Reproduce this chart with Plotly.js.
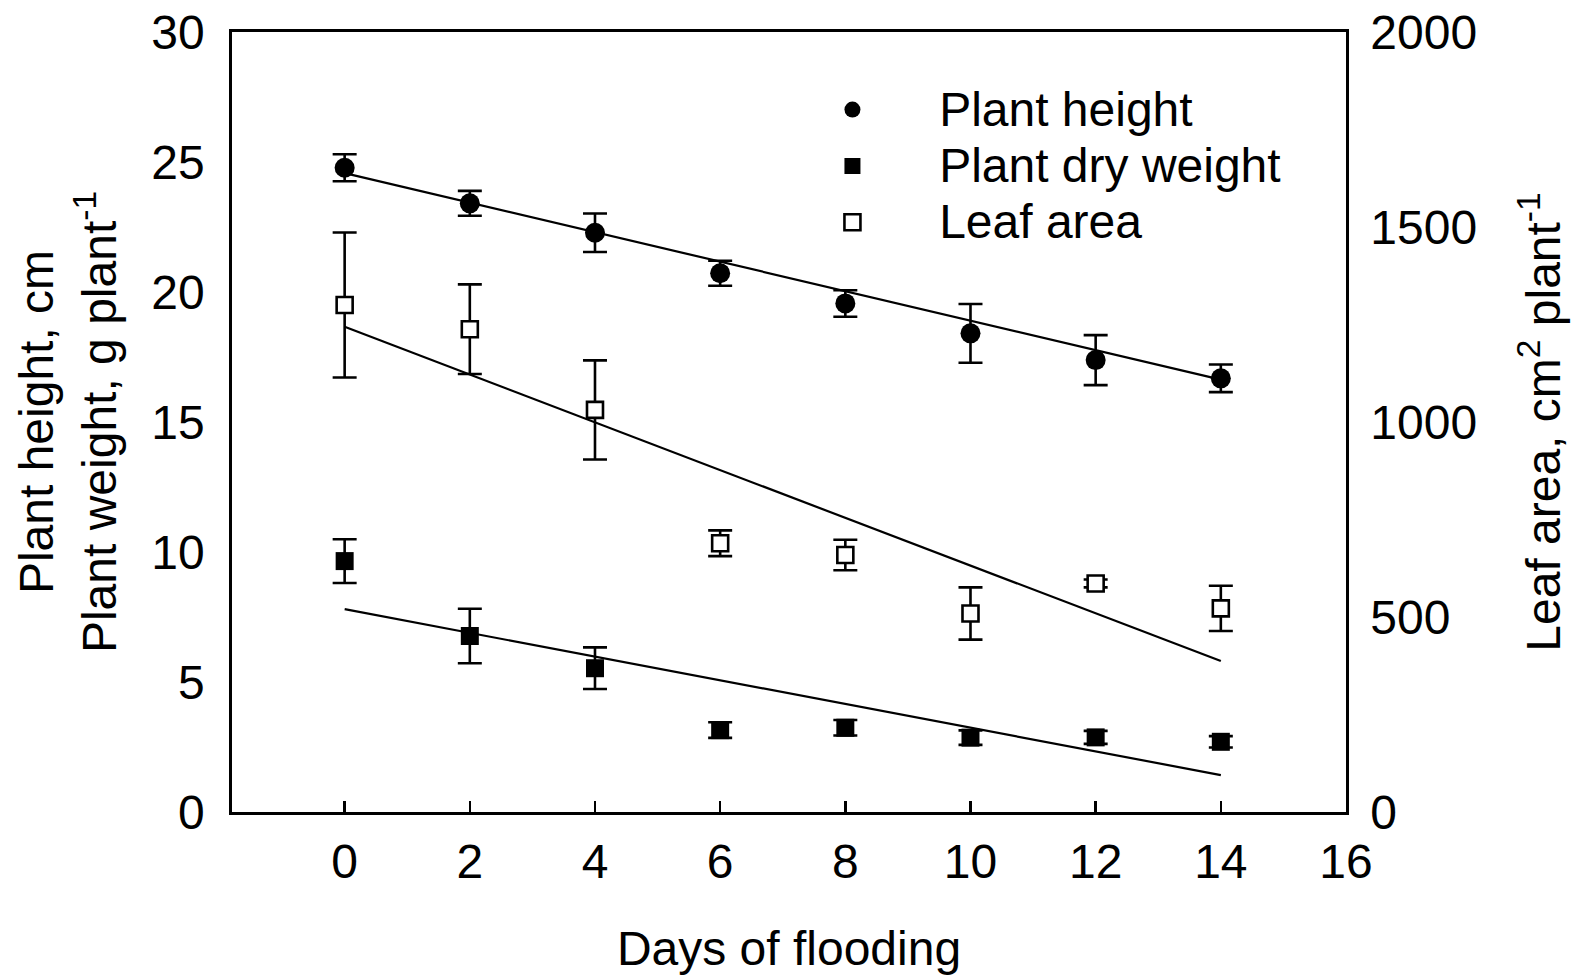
<!DOCTYPE html>
<html>
<head>
<meta charset="utf-8">
<script src="https://cdn.plot.ly/plotly-3.0.1.min.js"></script>
<style>html,body{margin:0;padding:0;background:#fff;}#chart{width:1579px;height:975px;}</style>
</head>
<body>
<div id="chart"></div>
<script>
// Days of flooding
const days = [0, 2, 4, 6, 8, 10, 12, 14];
// Plant height, cm (left axis)
const plantHeight = [24.78, 23.41, 22.28, 20.72, 19.56, 18.41, 17.38, 16.68];
const plantHeightErr = [0.52, 0.48, 0.74, 0.48, 0.51, 1.13, 0.96, 0.53];
// Plant dry weight, g plant-1 (left axis)
const dryWeight = [9.65, 6.77, 5.53, 3.15, 3.24, 2.86, 2.87, 2.70];
const dryWeightErr = [0.84, 1.05, 0.80, 0.30, 0.30, 0.28, 0.25, 0.22];
// Leaf area, cm2 plant-1 (right axis)
const leafArea = [1300, 1238, 1031, 689, 659, 509, 586, 522];
const leafAreaErr = [186, 115, 127, 33, 39, 67, 10, 58];
// Linear regression lines (end points)
const fitDays = [0, 14];
const plantHeightFit = [24.57, 16.63];
const dryWeightFit = [7.80, 1.42];
const leafAreaFit = [1244, 387];
// Tick labels
const xTicks = [0, 2, 4, 6, 8, 10, 12, 14, 16];
const yLeftTicks = [0, 5, 10, 15, 20, 25, 30];
const yRightTicks = [0, 500, 1000, 1500, 2000];

const FONT = '"Liberation Sans", Arial, sans-serif';
const legendName = s => '<span style="font-size:48px">\u00A0\u00A0\u00A0\u00A0\u00A0' + s + '</span>';

const errStyle = arr => ({type: 'data', array: arr, visible: true, color: '#000', thickness: 2.6, width: 12});

const traces = [
  {x: fitDays, y: plantHeightFit, mode: 'lines', line: {color: '#000', width: 2.2}, showlegend: false, hoverinfo: 'skip', yaxis: 'y'},
  {x: fitDays, y: dryWeightFit, mode: 'lines', line: {color: '#000', width: 2.2}, showlegend: false, hoverinfo: 'skip', yaxis: 'y'},
  {x: fitDays, y: leafAreaFit, mode: 'lines', line: {color: '#000', width: 2.2}, showlegend: false, hoverinfo: 'skip', yaxis: 'y2'},
  {x: days, y: plantHeight, name: legendName('Plant height'), mode: 'markers', yaxis: 'y',
   marker: {symbol: 'circle', size: 20, color: '#000'}, error_y: errStyle(plantHeightErr)},
  {x: days, y: dryWeight, name: legendName('Plant dry weight'), mode: 'markers', yaxis: 'y',
   marker: {symbol: 'square', size: 18, color: '#000'}, error_y: errStyle(dryWeightErr)},
  {x: days, y: leafArea, name: legendName('Leaf area'), mode: 'markers', yaxis: 'y2',
   marker: {symbol: 'square', size: 16, color: '#fff', line: {color: '#000', width: 2.6}}, error_y: errStyle(leafAreaErr)}
];

const layout = {
  width: 1579, height: 975,
  margin: {l: 232, r: 233, t: 32, b: 163, pad: 0},
  paper_bgcolor: '#fff', plot_bgcolor: '#fff',
  font: {family: FONT, size: 48, color: '#000'},
  showlegend: true,
  legend: {x: 0.539, y: 0.943, xanchor: 'left', yanchor: 'top', bgcolor: 'rgba(0,0,0,0)',
           font: {family: FONT, size: 41, color: '#000'}, traceorder: 'normal'},
  xaxis: {
    range: [-1.8, 16], tickvals: xTicks, ticktext: xTicks.map(String),
    showgrid: false, zeroline: false, showline: true, linecolor: '#000', linewidth: 2.7, mirror: true,
    ticks: 'inside', ticklen: 11, tickwidth: 2.6, tickcolor: '#000', ticklabelstandoff: 6,
    tickfont: {family: FONT, size: 48, color: '#000'},
    title: {text: 'Days of flooding', font: {family: FONT, size: 48, color: '#000'}, standoff: 48}
  },
  yaxis: {
    range: [0, 30], tickvals: yLeftTicks, ticktext: yLeftTicks.map(String),
    showgrid: false, zeroline: false, showline: true, linecolor: '#000', linewidth: 2.7, mirror: false,
    ticks: '', ticklabelstandoff: 15,
    tickfont: {family: FONT, size: 48, color: '#000'},
    title: {text: 'Plant height, cm<br>Plant weight, g plant<sup>-1</sup>', font: {family: FONT, size: 48, color: '#000'}, standoff: 20}
  },
  yaxis2: {
    range: [0, 2000], tickvals: yRightTicks, ticktext: yRightTicks.map(String),
    overlaying: 'y', side: 'right', anchor: 'x',
    showgrid: false, zeroline: false, showline: true, linecolor: '#000', linewidth: 2.7,
    ticks: '', ticklabelstandoff: 12,
    tickfont: {family: FONT, size: 48, color: '#000'},
    title: {text: 'Leaf area, cm<sup>2</sup> plant<sup>-1</sup>', font: {family: FONT, size: 48, color: '#000'}, standoff: 51}
  }
};

Plotly.newPlot('chart', traces, layout, {displayModeBar: false, staticPlot: true});
</script>
</body>
</html>
